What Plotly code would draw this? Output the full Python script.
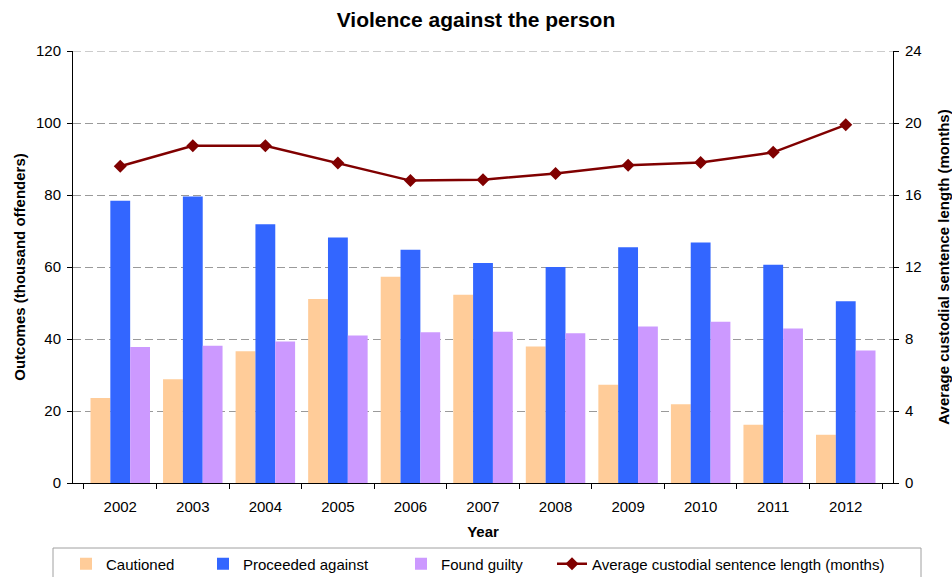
import plotly.graph_objects as go

years = ["2002", "2003", "2004", "2005", "2006", "2007", "2008", "2009", "2010", "2011", "2012"]
cautioned = [23.6, 28.8, 36.6, 51.1, 57.3, 52.3, 37.9, 27.3, 21.9, 16.2, 13.4]
proceeded_against = [78.4, 79.6, 71.9, 68.2, 64.8, 61.1, 60.0, 65.5, 66.8, 60.6, 50.5]
found_guilty = [37.8, 38.1, 39.3, 41.0, 41.9, 42.0, 41.6, 43.5, 44.8, 42.9, 36.8]
avg_sentence_months = [17.6, 18.74, 18.74, 17.78, 16.8, 16.85, 17.2, 17.65, 17.8, 18.37, 19.9]

left_ticks = [0, 20, 40, 60, 80, 100, 120]
right_ticks = [0, 4, 8, 12, 16, 20, 24]

FONT = "Liberation Sans, Arial, sans-serif"
W, H = 952, 577

# each series gets its own legend so entries can be spaced freely
legend_left_px = [66, 203, 401, 552]
legend_mid_px = 564


def legend_box(px):
    return dict(orientation="h", xref="container", yref="container",
                x=px / W, xanchor="left", y=1 - legend_mid_px / H, yanchor="middle",
                borderwidth=0, bgcolor="rgba(0,0,0,0)", visible=True,
                font=dict(size=15, family=FONT, color="black"), itemwidth=30)


fig = go.Figure()
fig.add_trace(go.Bar(name="Cautioned", x=years, y=cautioned, legend="legend", showlegend=True,
                     marker=dict(color="#FFCC99", line=dict(width=0))))
fig.add_trace(go.Bar(name="Proceeded against", x=years, y=proceeded_against, legend="legend2",
                     showlegend=True, marker=dict(color="#3366FF", line=dict(width=0))))
fig.add_trace(go.Bar(name="Found guilty", x=years, y=found_guilty, legend="legend3",
                     showlegend=True, marker=dict(color="#CC99FF", line=dict(width=0))))
fig.add_trace(go.Scatter(name="Average custodial sentence length (months)",
                         x=years, y=avg_sentence_months, yaxis="y2", legend="legend4",
                         showlegend=True, mode="lines+markers",
                         line=dict(color="#800000", width=2.5),
                         marker=dict(symbol="diamond", size=10, color="#800000")))

fig.update_layout(
    width=W, height=H, showlegend=True,
    margin=dict(l=73, r=59, t=51, b=94, autoexpand=False),
    paper_bgcolor="white", plot_bgcolor="white",
    font=dict(family=FONT, size=15, color="black"),
    title=dict(text="<b>Violence against the person</b>", x=0.5, xanchor="center",
               y=1 - 20 / H, yanchor="middle", font=dict(size=21, family=FONT)),
    barmode="group", bargap=0.18, bargroupgap=0,
    xaxis=dict(
        type="category",
        title=dict(text="<b>Year</b>", font=dict(size=15), standoff=12),
        showline=True, linecolor="black", linewidth=1,
        ticks="outside", tickson="boundaries", ticklen=5, tickcolor="black",
        ticklabelstandoff=10,
        showgrid=False,
    ),
    yaxis=dict(
        title=dict(text="<b>Outcomes (thousand offenders)</b>", font=dict(size=15), standoff=6),
        range=[0, 120], tickvals=left_ticks,
        showline=True, linecolor="black", linewidth=1,
        ticks="outside", ticklen=5, tickcolor="black",
        ticklabelstandoff=3,
        showgrid=True, gridcolor="#9a9a9a", griddash="8px,4px", gridwidth=1,
        zeroline=False,
    ),
    yaxis2=dict(
        title=dict(text="<b>Average custodial sentence length (months)</b>", font=dict(size=15), standoff=17),
        overlaying="y", side="right",
        range=[0, 24], tickvals=right_ticks,
        showline=True, linecolor="black", linewidth=1,
        ticks="outside", ticklen=5, tickcolor="black",
        ticklabelstandoff=3,
        showgrid=False, zeroline=False,
    ),
    legend=legend_box(legend_left_px[0]),
    legend2=legend_box(legend_left_px[1]),
    legend3=legend_box(legend_left_px[2]),
    legend4=legend_box(legend_left_px[3]),
    shapes=[
        # top gridline at the end of the range
        dict(type="line", xref="paper", yref="y", x0=0, x1=1, y0=120, y1=120,
             line=dict(color="#9a9a9a", width=1, dash="8px,4px"), layer="below"),
        # frame around the legend entries
        dict(type="rect", xref="paper", yref="paper",
             x0=(53 - 73) / 820, x1=(921 - 73) / 820,
             y0=(483 - 582) / 432, y1=(483 - 548) / 432,
             line=dict(color="#a0a0a0", width=1), fillcolor="rgba(0,0,0,0)"),
    ],
)

fig.write_html("out.html")
